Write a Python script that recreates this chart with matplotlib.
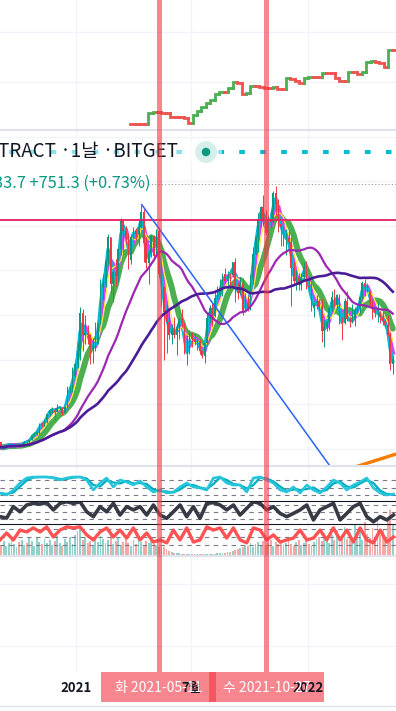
import matplotlib
matplotlib.use("Agg")
import matplotlib.pyplot as plt
from matplotlib.patches import Rectangle, Ellipse
from matplotlib.lines import Line2D
import numpy as np
import pandas as pd

W, H = 396, 711
KR = ['Noto Sans CJK KR', 'DejaVu Sans']
T0 = pd.Timestamp('2021-01-01')

# ---- price, 4-day bars (thousands USD) ----
bar_start = '2020-09-03'
first_open = 11.4
close = [10.3, 10.3, 10.7, 10.9, 10.5, 10.7, 10.8, 10.7, 10.9, 11.5,
         11.4, 11.9, 13.0, 13.3, 13.7, 15.6, 15.3, 16.3, 17.7, 18.7,
         18.7, 18.2, 19.2, 19.2, 18.0, 19.3, 23.1, 23.2, 26.3, 29.0,
         31.9, 40.5, 35.5, 36.0, 35.5, 32.3, 33.1, 33.5, 38.0, 46.4,
         47.2, 52.1, 57.5, 47.0, 49.6, 48.8, 54.8, 61.2, 58.9, 57.4,
         52.3, 57.6, 59.0, 58.1, 59.8, 63.1, 56.2, 51.7, 54.0, 57.7,
         53.2, 58.9, 49.2, 46.4, 40.6, 38.4, 35.6, 36.7, 35.5, 37.3,
         39.0, 38.1, 31.6, 31.6, 35.9, 34.6, 33.9, 34.2, 31.8, 30.8,
         33.6, 39.4, 41.5, 39.7, 43.8, 44.4, 46.0, 49.3, 47.7, 49.0,
         48.9, 51.8, 46.1, 44.9, 47.3, 40.7, 42.7, 41.5, 48.2, 53.8,
         57.5, 61.6, 64.3, 61.3, 58.4, 61.3, 61.0, 67.5, 64.9, 60.4,
         59.7, 57.2, 57.3, 56.5, 50.6, 47.6, 48.4, 46.7, 48.6, 50.8,
         46.5, 46.4, 41.6, 42.7, 43.1, 41.7, 36.3, 37.2, 38.5, 41.6,
         44.0, 42.2, 44.6, 38.4, 38.3, 43.2, 39.0, 38.7, 38.8, 41.1,
         41.3, 44.0, 47.1, 46.3, 45.5, 42.8, 41.1, 40.4, 40.5, 39.5,
         38.6, 37.7, 35.5, 29.0, 30.1]
high = [11.5, 10.5, 10.8, 11.1, 11.2, 10.8, 10.9, 10.9, 11.0, 11.7,
        11.6, 12.0, 13.2, 13.8, 13.9, 15.8, 15.9, 16.4, 17.8, 18.8,
        19.4, 19.0, 19.9, 19.4, 19.3, 19.5, 24.0, 24.1, 28.4, 29.3,
        34.0, 41.9, 41.3, 40.1, 37.8, 35.8, 34.8, 38.5, 38.5, 48.0,
        48.9, 52.6, 58.3, 57.5, 49.8, 52.5, 55.0, 61.7, 61.4, 60.0,
        58.4, 58.3, 59.8, 59.6, 61.2, 64.8, 63.8, 57.5, 54.5, 57.9,
        58.0, 59.3, 59.5, 51.4, 46.0, 42.5, 40.8, 37.9, 39.5, 37.9,
        39.4, 41.3, 38.2, 35.4, 36.6, 35.9, 35.9, 34.6, 34.6, 32.2,
        33.8, 40.5, 42.3, 42.6, 45.3, 46.5, 48.1, 49.4, 50.5, 49.8,
        49.5, 52.0, 52.9, 47.2, 48.5, 48.4, 44.9, 44.3, 49.2, 55.3,
        57.8, 62.9, 64.4, 66.9, 63.5, 62.5, 63.5, 67.8, 69.0, 66.0,
        61.0, 60.0, 59.4, 59.1, 57.6, 51.9, 50.1, 49.5, 49.5, 51.8,
        52.1, 48.6, 47.5, 42.8, 44.4, 43.5, 43.5, 38.9, 38.7, 41.8,
        45.5, 45.8, 44.7, 44.8, 39.5, 43.9, 45.4, 39.6, 42.4, 41.7,
        42.3, 44.2, 47.6, 48.2, 47.2, 45.5, 43.4, 41.5, 42.9, 40.8,
        40.8, 39.2, 40.0, 36.1, 30.9]
low = [9.9, 9.9, 10.2, 10.6, 10.3, 10.1, 10.6, 10.4, 10.5, 10.9,
       11.2, 11.3, 11.9, 12.9, 13.0, 13.2, 14.8, 15.0, 15.8, 17.3,
       18.0, 16.3, 18.1, 18.6, 17.6, 18.0, 19.3, 22.4, 22.8, 26.0,
       28.0, 30.0, 32.0, 33.5, 33.4, 28.9, 29.3, 32.0, 33.5, 38.0,
       43.7, 46.2, 51.0, 45.0, 43.0, 46.5, 47.5, 53.5, 54.0, 56.0,
       50.4, 51.4, 57.1, 56.8, 55.5, 59.5, 52.0, 50.5, 47.0, 53.0,
       53.0, 53.5, 48.5, 42.0, 30.0, 31.5, 34.7, 33.5, 34.8, 31.0,
       34.7, 37.4, 31.3, 28.8, 31.3, 32.7, 33.3, 32.2, 31.2, 30.4,
       29.3, 33.5, 38.3, 37.6, 39.5, 43.5, 44.3, 44.2, 47.1, 46.5,
       46.5, 48.5, 43.0, 43.5, 44.7, 40.0, 40.7, 40.8, 41.2, 46.9,
       53.6, 54.2, 59.8, 60.0, 58.0, 57.8, 59.5, 60.7, 62.3, 58.6,
       55.6, 55.4, 53.5, 55.9, 42.0, 47.1, 45.7, 45.6, 45.6, 48.1,
       45.9, 45.7, 40.8, 39.6, 41.3, 41.2, 34.0, 32.9, 36.3, 36.6,
       40.9, 41.8, 41.6, 38.0, 34.3, 38.0, 38.6, 37.2, 38.2, 37.6,
       40.4, 40.5, 43.6, 44.2, 45.2, 42.1, 39.2, 39.5, 38.5, 38.2,
       37.7, 37.4, 35.2, 27.7, 26.7]
volume = [10, 14, 9, 12, 16, 11, 8, 13, 15, 10,
          12, 17, 14, 9, 18, 13, 11, 16, 12, 15,
          10, 14, 19, 12, 9, 16, 13, 18, 11, 20,
          24, 26, 15, 18, 12, 14, 10, 17, 13, 19,
          16, 12, 15, 21, 11, 14, 18, 10, 13, 16,
          12, 9, 15, 11, 17, 13, 10, 14, 12, 18,
          11, 9, 8, 7, 8, 6, 4, 3, 2, 2,
          2, 1, 1, 1, 1, 1, 1, 1, 1, 1,
          1, 1, 1, 1, 1, 2, 2, 2, 2, 3,
          3, 4, 5, 6, 7, 8, 10, 9, 12, 8,
          11, 13, 9, 14, 10, 12, 15, 9, 13, 11,
          14, 10, 12, 16, 11, 9, 13, 15, 10, 12,
          14, 11, 9, 13, 16, 18, 14, 22, 17, 12,
          20, 15, 25, 13, 19, 28, 16, 22, 14, 30,
          18, 24, 15, 33, 21, 17, 27, 14, 35, 20,
          25, 18, 38, 45, 30]

# ---- upper pane step series, weekly ----
top_start = '2021-03-27'
top_vals = [16, 16, 16, 16, 38, 40, 40, 38, 38, 30, 30, 30, 28, 18, 34, 42,
            50, 58, 64, 76, 80, 80, 88, 100, 98, 76, 78, 92, 92, 90, 88, 88,
            90, 86, 86, 108, 106, 102, 98, 108, 110, 110, 110, 118, 118, 118,
            108, 102, 102, 120, 120, 116, 120, 140, 142, 140, 138, 130, 164,
            164, 164]

# ---- oscillators (sampled evenly over the visible range) ----
osc_start, osc_end = '2020-09-03', '2022-05-15'
stoch_k = [28, 20, 40, 68, 88, 92, 92, 92, 88, 80, 88, 92, 92, 80, 40, 68,
           88, 52, 80, 72, 60, 76, 52, 32, 40, 28, 32, 52, 68, 52, 48, 40,
           88, 92, 68, 60, 60, 32, 88, 92, 80, 68, 40, 32, 52, 28, 60, 40,
           28, 52, 80, 68, 40, 60, 72, 88, 48, 28, 20, 24]
rsi_vals = [30, 24, 73, 51, 80, 87, 84, 90, 59, 87, 94, 87, 94, 51, 30, 73,
            51, 87, 37, 73, 59, 73, 37, 80, 37, 23, 51, 80, 30, 73, 23, 87,
            90, 80, 59, 80, 37, 66, 94, 87, 59, 73, 44, 30, 44, 59, 80, 16,
            59, 73, 87, 16, 44, 73, 87, 30, 8, 30, 16, 37]
red_osc = [39, 65, 39, 76, 69, 84, 69, 88, 50, 76, 88, 84, 88, 58, 39, 69,
           84, 50, 76, 46, 84, 39, 65, 31, 39, 28, 76, 39, 84, 31, 39, 88,
           76, 84, 46, 84, 39, 28, 84, 76, 39, 58, 31, 39, 46, 76, 39, 46,
           76, 39, 84, 39, 76, 31, 84, 39, 28, 76, 31, 50]
osc_levels = [80, 50, 20]

# ---- drawings and labels ----
resistance = 61.35
ath_line = 69.4
status_line = 76.6
trend_pts = [('2021-04-14', 64.8), ('2022-02-04', 6.07)]
orange_pts = [('2022-03-19', 6.0), ('2022-05-20', 8.8)]
marker_dates = ['2021-05-11', '2021-10-27']
marker_labels = ['화 2021-05-11', '수 2021-10-27']
tick_dates = ['2021-01-01', '2021-07-01', '2022-01-01']
tick_labels = ['2021', '7월', '2022']
title = 'TRACT ·1날 ·BITGET'
change_text = '33.7 +751.3 (+0.73%)'


def day(d):
    return np.asarray((pd.to_datetime(d) - T0) / pd.Timedelta(days=1))


XLIM = (day('2020-09-03'), day('2022-05-19'))
GRID = '#f0f3fa'
UP, DOWN = '#089981', '#f23645'

fig = plt.figure(figsize=(W / 100, H / 100), dpi=100)
fig.patch.set_facecolor('white')


def pane(top, bottom, ylim, z=0):
    a = fig.add_axes([0, 1 - bottom / H, 1, (bottom - top) / H], zorder=z)
    a.set_xlim(XLIM)
    a.set_ylim(ylim)
    a.axis('off')
    return a


def vgrid(a):
    for t in day(tick_dates):
        a.axvline(t, color=GRID, lw=0.9, zorder=0)


# top pane
ax_top = pane(0, 129, (6, 264))
vgrid(ax_top)
for g in (100, 200):
    ax_top.axhline(g, color=GRID, lw=0.9, zorder=0)
tx = day(pd.date_range(top_start, periods=len(top_vals), freq='7D'))
for k, v in enumerate(top_vals):
    prev = top_vals[k - 1] if k else v
    col = '#4caf50' if v > prev else '#ef5350'
    ax_top.plot([tx[k], tx[k], tx[k] + 7], [prev, v, v], color=col, lw=2.0,
                solid_joinstyle='miter', solid_capstyle='projecting')

# main pane
ax = pane(130, 466, (6.07, 81.57))
vgrid(ax)
for g in range(10, 90, 10):
    ax.axhline(g, color=GRID, lw=0.9, zorder=0)

bx = day(pd.date_range(bar_start, periods=len(close), freq='4D')) + 2
c = np.array(close)
o = np.r_[first_open, c[:-1]]
hi = np.maximum(np.array(high), np.maximum(o, c))
lo = np.minimum(np.array(low), np.minimum(o, c))
cols = np.where(c >= o, UP, DOWN)

s = pd.Series(c)
ma = {n: s.rolling(n, min_periods=1).mean().values for n in (2, 3, 5, 9, 25, 50)}
ax.plot(bx, ma[9], color='#4caf50', lw=4.3, zorder=2, solid_capstyle='round')
ax.plot(bx, ma[3], color='#e040fb', lw=3.2, zorder=2.1)
ax.plot(bx, ma[2], color='#00bcd4', lw=2.4, zorder=2.2)
ax.plot(bx, ma[5], color='#ffeb3b', lw=0.9, zorder=2.3)

ax.vlines(bx, lo, hi, colors=cols, lw=0.7, zorder=3)
ax.bar(bx, np.maximum(np.abs(c - o), 0.15), bottom=np.minimum(o, c), width=2.6,
       color=cols, lw=0, zorder=3)

ax.plot(bx, ma[25], color='#9c27b0', lw=1.6, zorder=4)
ax.plot(bx, ma[50], color='#4a1d96', lw=1.9, zorder=4)

ax.axhline(resistance, color='#e91e63', lw=1.3, zorder=5)
ax.axhline(ath_line, xmin=148 / W, color='#9598a1', lw=0.8, ls=(0, (1, 2)), zorder=5)
ax.axhline(status_line, color='#00bcd4', lw=2.9, ls=(3, (1.4, 3.8)),
           dash_capstyle='butt', zorder=5)
ax.plot(day([p[0] for p in trend_pts]), [p[1] for p in trend_pts],
        color='#2962ff', lw=1.1, zorder=5)
ax.plot(day([p[0] for p in orange_pts]), [p[1] for p in orange_pts],
        color='#f57c00', lw=2.4, zorder=5)

# lower pane: volume + three oscillators
ax_vol = pane(467, 555, (0, 88))
vgrid(ax_vol)
ax_vol.bar(bx, volume, width=2.9, color=np.where(c >= o, '#26a69a', '#ef5350'),
           alpha=0.5, lw=0, zorder=1)

ox = day(pd.date_range(osc_start, osc_end, periods=len(stoch_k)))

ax_st = pane(467, 500.5, (-2, 132), z=1)
k_line = np.array(stoch_k, float)
d_line = pd.Series(k_line).rolling(2, min_periods=1).mean().values
ax_st.plot(ox, d_line, color='#00acc1', lw=1.6)
ax_st.plot(ox, k_line, color='#26c6da', lw=1.9)

ax_rsi = pane(500.5, 524, (-1.43, 99.3), z=1)
ax_rsi.plot(ox, rsi_vals, color='#363a45', lw=2.6)

ax_red = pane(524, 555, (-17.5, 98.75), z=1)
ax_red.plot(ox, red_osc, color='#ff5252', lw=2.4)

for a in (ax_st, ax_rsi, ax_red):
    for lv in osc_levels:
        a.axhline(lv, color='#787b86', lw=0.8, ls=(0, (4, 4)), zorder=0)

# empty pane
ax_emp = pane(556, 672, (0, 1))
vgrid(ax_emp)
for yy in (584, 646):
    ax_emp.axhline((672 - yy) / 116, color=GRID, lw=0.9)

# marker lines through every pane
ax_mk = pane(0, 672, (0, 1), z=5)
for md in day(marker_dates):
    ax_mk.axvline(md, color='#f23645', alpha=0.6, lw=3.6)

# time axis
ax_lab = pane(672, 711, (0, 1), z=5)
for t, lab in zip(day(tick_dates), tick_labels):
    ax_lab.text(t, 0.59, lab, ha='center', va='center', fontsize=9.5,
                fontweight='bold', color='#131722', family=KR)
for md, lab in zip(day(marker_dates), marker_labels):
    ax_lab.add_patch(Rectangle((md - 90.5, 0.23), 181, 0.77,
                               transform=ax_lab.get_xaxis_transform(),
                               color='#f23645', alpha=0.6, lw=0))
    ax_lab.text(md, 0.59, lab, ha='center', va='center', fontsize=10,
                color='white', family=KR)
ax_lab.axhline(0.13, color='#e0e3eb', lw=1)

# pane separators
for yy, col, lw in ((130, '#e0e3eb', 1.5), (466, '#e0e3eb', 1.5), (555.5, '#e0e3eb', 1.5),
                    (500.5, '#131722', 0.8), (524, '#131722', 0.8)):
    fig.add_artist(Line2D([0, 1], [1 - yy / H] * 2, color=col, lw=lw,
                          transform=fig.transFigure))

# legend row
fig.add_artist(Rectangle((0, 1 - 163 / H), 222 / W, 22 / H, facecolor='white',
                         alpha=0.55, lw=0, transform=fig.transFigure))
fig.add_artist(Ellipse((206 / W, 1 - 152 / H), 22 / W, 22 / H, facecolor='#d7efea',
                       lw=0, transform=fig.transFigure))
fig.add_artist(Ellipse((206 / W, 1 - 152 / H), 8.5 / W, 8.5 / H, facecolor='#089981',
                       lw=0, transform=fig.transFigure))
fig.text(-2 / W, 1 - 152 / H, title, fontsize=13.5, color='#131722', va='center',
         family=KR)
fig.text(-6 / W, 1 - 183 / H, change_text, fontsize=11.8, color='#089981', va='center',
         family=KR)

fig.savefig('out.png', dpi=100, facecolor='white')
